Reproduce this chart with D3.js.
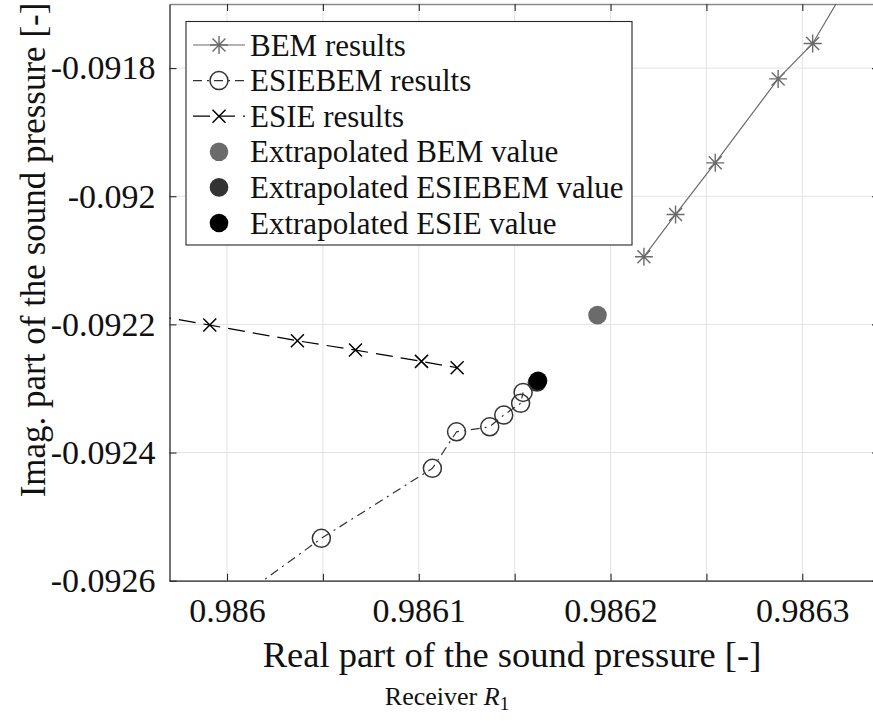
<!DOCTYPE html>
<html>
<head>
<meta charset="utf-8">
<script src="https://cdn.jsdelivr.net/npm/d3@7"></script>
<style>
  html, body { margin: 0; padding: 0; background: #fff; }
  svg { display: block; font-family: "Liberation Serif", "Times New Roman", serif; }
</style>
</head>
<body>
<svg id="chart" width="873" height="721"></svg>
<script>
// Converged sound pressure at receiver R1 (real vs. imaginary part)
const bemRe = [0.9862174, 0.9862339, 0.9862546, 0.9862874, 0.9863054, 0.9863300];
const bemIm = [-0.0920945, -0.0920284, -0.0919479, -0.0918169, -0.0917616, -0.0916371];

const esiebemRe = [0.9859962, 0.9860492, 0.9861071, 0.9861197, 0.9861370, 0.9861443, 0.9861531, 0.9861544];
const esiebemIm = [-0.0926488, -0.0925339, -0.0924247, -0.0923676, -0.0923598, -0.0923415, -0.0923232, -0.0923061];

const esieRe = [0.9859492, 0.9859910, 0.9860367, 0.9860670, 0.9861014, 0.9861200];
const esieIm = [-0.0921793, -0.0922011, -0.0922256, -0.0922401, -0.0922577, -0.0922677];

// Extrapolated values (BEM, ESIEBEM, ESIE)
const extrapNames = ["Extrapolated BEM value", "Extrapolated ESIEBEM value", "Extrapolated ESIE value"];
const extrapRe = [0.9861932, 0.9861616, 0.9861622];
const extrapIm = [-0.0921855, -0.0922908, -0.0922880];

const xTicks = [0.98600, 0.98605, 0.98610, 0.98615, 0.98620, 0.98625, 0.98630];
const xTickLabels = ["0.986", "", "0.9861", "", "0.9862", "", "0.9863"];
const yTicks = [-0.0926, -0.0924, -0.0922, -0.0920, -0.0918];
const yTickLabels = ["-0.0926", "-0.0924", "-0.0922", "-0.092", "-0.0918"];

const xDomain = [0.98597, 0.98634];
const yDomain = [-0.0926, -0.0917];

const svg = d3.select("#chart");
const plot = { left: 169.5, right: 879, top: 4, bottom: 580.7 };

const x = d3.scaleLinear().domain(xDomain).range([plot.left, plot.right]);
const y = d3.scaleLinear().domain(yDomain).range([plot.bottom, plot.top]);

const colBEM = "#6b6b6b", colESIEBEM = "#333333", colESIE = "#000000";
const axisCol = "#262626";
const serif = "Liberation Serif";

svg.append("defs").append("clipPath").attr("id", "clip")
  .append("rect")
  .attr("x", plot.left).attr("y", plot.top)
  .attr("width", plot.right - plot.left).attr("height", plot.bottom - plot.top);

// grid
const grid = svg.append("g");
grid.selectAll("line.gx").data(xTicks).join("line")
  .attr("x1", d => x(d)).attr("x2", d => x(d))
  .attr("y1", plot.top).attr("y2", plot.bottom)
  .attr("stroke", "#e3e3e3").attr("stroke-width", 1);
grid.selectAll("line.gy").data(yTicks).join("line")
  .attr("x1", plot.left).attr("x2", plot.right)
  .attr("y1", d => y(d)).attr("y2", d => y(d))
  .attr("stroke", "#e3e3e3").attr("stroke-width", 1);

// axes (box with inward ticks)
const tickLen = 7;
const axB = svg.append("g").attr("transform", `translate(0,${plot.bottom})`)
  .call(d3.axisBottom(x).tickValues(xTicks).tickSizeInner(-tickLen).tickSizeOuter(0)
    .tickPadding(17).tickFormat((d, i) => xTickLabels[i]));
const axT = svg.append("g").attr("transform", `translate(0,${plot.top})`)
  .call(d3.axisTop(x).tickValues(xTicks).tickSizeInner(-tickLen).tickSizeOuter(0).tickFormat(""));
const axL = svg.append("g").attr("transform", `translate(${plot.left},0)`)
  .call(d3.axisLeft(y).tickValues(yTicks).tickSizeInner(-tickLen).tickSizeOuter(0)
    .tickPadding(14).tickFormat((d, i) => yTickLabels[i]));
const axR = svg.append("g").attr("transform", `translate(${plot.right},0)`)
  .call(d3.axisRight(y).tickValues(yTicks).tickSizeInner(-tickLen).tickSizeOuter(0).tickFormat(""));

[axB, axT, axL, axR].forEach(a => {
  a.attr("font-family", serif);
  a.select(".domain").attr("stroke", axisCol).attr("stroke-width", 1.3);
  a.selectAll(".tick line").attr("stroke", axisCol).attr("stroke-width", 1.1);
  a.selectAll("text").attr("fill", "#111").style("font-family", serif)
    .style("font-size", "34px");
});
axT.select(".domain").attr("stroke", "#8a8a8a");
axB.selectAll("text").attr("dy", "0.71em");

// axis titles
svg.append("text").attr("x", 512).attr("y", 667)
  .attr("text-anchor", "middle").attr("fill", "#111")
  .style("font-family", serif).style("font-size", "36.5px")
  .text("Real part of the sound pressure [-]");
svg.append("text")
  .attr("transform", "translate(45,250) rotate(-90)")
  .attr("text-anchor", "middle").attr("fill", "#111")
  .style("font-family", serif).style("font-size", "35px")
  .text("Imag. part of the sound pressure [-]");

const cap = svg.append("text").attr("x", 447).attr("y", 705)
  .attr("text-anchor", "middle").attr("fill", "#111")
  .style("font-family", serif).style("font-size", "26px");
cap.append("tspan").text("Receiver ");
cap.append("tspan").style("font-style", "italic").text("R");
cap.append("tspan").attr("dy", 5).style("font-size", "19px").text("1");

// data
const zip = (a, b) => a.map((v, i) => [v, b[i]]);
const line = d3.line().x(d => x(d[0])).y(d => y(d[1]));
const data = svg.append("g").attr("clip-path", "url(#clip)");

function asterisk(g, cx, cy, r, col) {
  const d = r * 0.72;
  g.append("path")
    .attr("d", `M${cx - r},${cy}L${cx + r},${cy}M${cx},${cy - r}L${cx},${cy + r}` +
      `M${cx - d},${cy - d}L${cx + d},${cy + d}M${cx - d},${cy + d}L${cx + d},${cy - d}`)
    .attr("stroke", col).attr("stroke-width", 1.4).attr("fill", "none");
}
function cross(g, cx, cy, r, col) {
  g.append("path")
    .attr("d", `M${cx - r},${cy - r}L${cx + r},${cy + r}M${cx - r},${cy + r}L${cx + r},${cy - r}`)
    .attr("stroke", col).attr("stroke-width", 1.5).attr("fill", "none");
}
function ring(g, cx, cy, r, col) {
  g.append("circle").attr("cx", cx).attr("cy", cy).attr("r", r)
    .attr("fill", "none").attr("stroke", col).attr("stroke-width", 1.5);
}

const bem = zip(bemRe, bemIm);
data.append("path").datum(bem).attr("d", line)
  .attr("fill", "none").attr("stroke", colBEM).attr("stroke-width", 1.2);
bem.forEach(p => asterisk(data, x(p[0]), y(p[1]), 9, colBEM));

const eb = zip(esiebemRe, esiebemIm);
data.append("path").datum(eb).attr("d", line)
  .attr("fill", "none").attr("stroke", colESIEBEM).attr("stroke-width", 1.2)
  .attr("stroke-dasharray", "9,5,2,5");
eb.forEach(p => ring(data, x(p[0]), y(p[1]), 9, colESIEBEM));

const es = zip(esieRe, esieIm);
data.append("path").datum(es).attr("d", line)
  .attr("fill", "none").attr("stroke", colESIE).attr("stroke-width", 1.2)
  .attr("stroke-dasharray", "17,8");
es.forEach(p => cross(data, x(p[0]), y(p[1]), 6.5, colESIE));

const extrapCols = [colBEM, colESIEBEM, colESIE];
extrapRe.forEach((v, i) => {
  data.append("circle").attr("cx", x(v)).attr("cy", y(extrapIm[i])).attr("r", 9.3)
    .attr("fill", extrapCols[i]);
});

// legend
const lg = svg.append("g");
lg.append("rect").attr("x", 186).attr("y", 21.5).attr("width", 446).attr("height", 223.5)
  .attr("fill", "#fff").attr("stroke", axisCol).attr("stroke-width", 1.1);
const legendNames = ["BEM results", "ESIEBEM results", "ESIE results"].concat(extrapNames);
const rowY = i => 45 + i * 35.6;
const lx0 = 193, lx1 = 245, lxm = 219;
legendNames.forEach((name, i) => {
  const cy = rowY(i);
  if (i === 0) {
    lg.append("line").attr("x1", lx0).attr("x2", lx1).attr("y1", cy).attr("y2", cy)
      .attr("stroke", colBEM).attr("stroke-width", 1.2);
    asterisk(lg, lxm, cy, 9, colBEM);
  } else if (i === 1) {
    lg.append("line").attr("x1", lx0).attr("x2", lx1).attr("y1", cy).attr("y2", cy)
      .attr("stroke", colESIEBEM).attr("stroke-width", 1.2).attr("stroke-dasharray", "9,5,2,5");
    ring(lg, lxm, cy, 9, colESIEBEM);
  } else if (i === 2) {
    lg.append("line").attr("x1", lx0).attr("x2", lx1).attr("y1", cy).attr("y2", cy)
      .attr("stroke", colESIE).attr("stroke-width", 1.2).attr("stroke-dasharray", "17,8");
    cross(lg, lxm, cy, 6.5, colESIE);
  } else {
    lg.append("circle").attr("cx", lxm).attr("cy", cy).attr("r", 9.3)
      .attr("fill", extrapCols[i - 3]);
  }
  lg.append("text").attr("x", 250).attr("y", cy).attr("dy", "0.34em")
    .attr("fill", "#111").style("font-family", serif).style("font-size", "31px").text(name);
});
</script>
</body>
</html>
